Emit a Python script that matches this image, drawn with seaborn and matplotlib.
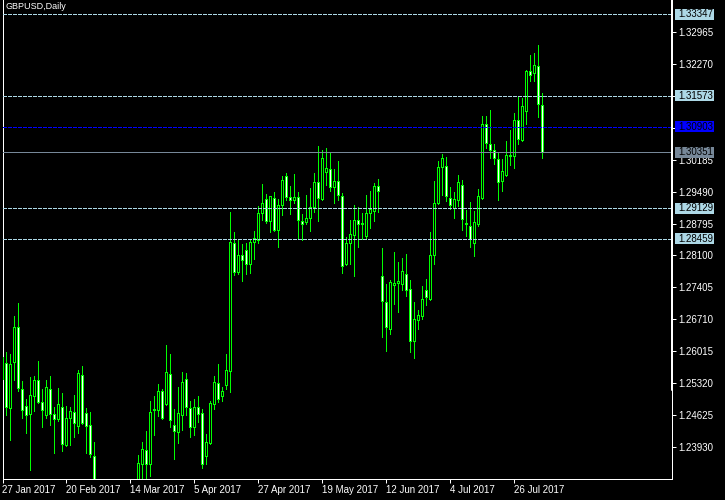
import matplotlib
matplotlib.use("Agg")
import matplotlib.pyplot as plt
import numpy as np
import pandas as pd
import seaborn as sns
from matplotlib.patches import Rectangle
from matplotlib.transforms import IdentityTransform

# daily GBPUSD bars, 27 Jan 2017 .. early Aug 2017 (first bar is cut by the left edge,
# the early-March bars sit below the visible price range)
opens = [
    1.2542, 1.25752, 1.24772, 1.25774, 1.26535, 1.25185, 1.24822, 1.24654, 1.25047, 1.25388,
    1.24903, 1.24633, 1.25192, 1.24641, 1.24545, 1.24794, 1.23980, 1.24554, 1.24685, 1.24393,
    1.25491, 1.24663, 1.24402, 1.23734, 1.2299, 1.2285, 1.2262, 1.2278, 1.2250, 1.2215,
    1.2195, 1.2210, 1.2240, 1.2225, 1.23102, 1.23554, 1.23858, 1.23554, 1.24729, 1.24742,
    1.25149, 1.24866, 1.25513, 1.24402, 1.24262, 1.24633, 1.25404, 1.24772, 1.24358, 1.24794,
    1.24663, 1.23741, 1.24011, 1.24859, 1.25323, 1.25047, 1.25273, 1.25591, 1.28365, 1.27746,
    1.28103, 1.28212, 1.27920, 1.28387, 1.28443, 1.29018, 1.29323, 1.28844, 1.29345, 1.28648,
    1.29192, 1.29824, 1.29367, 1.29302, 1.29367, 1.28851, 1.28822, 1.28909, 1.29155, 1.29693,
    1.29323, 1.29924, 1.29976, 1.29598, 1.29716, 1.29388, 1.27920, 1.28365, 1.28552, 1.28866,
    1.28779, 1.28530, 1.29018, 1.29062, 1.29606, 1.27646, 1.27080, 1.26506, 1.27463, 1.27507,
    1.27485, 1.27690, 1.27363, 1.26244, 1.26702, 1.26788, 1.27341, 1.27152, 1.28116, 1.29236,
    1.30019, 1.30041, 1.29345, 1.29127, 1.29302, 1.29628, 1.28785, 1.28742, 1.28365, 1.28792,
    1.29352, 1.30956, 1.30520, 1.30390, 1.30194, 1.29728, 1.29859, 1.30259, 1.30259, 1.31043,
    1.30607, 1.31252, 1.32110, 1.32066, 1.32218, 1.31369,
]
highs = [
    1.2595, 1.25998, 1.25955, 1.26781, 1.27065, 1.25366, 1.24975, 1.25454, 1.25469, 1.25802,
    1.25192, 1.25388, 1.25475, 1.24800, 1.25214, 1.25105, 1.24822, 1.24800, 1.25062, 1.25606,
    1.25693, 1.24779, 1.24692, 1.24040, 1.2315, 1.2305, 1.2290, 1.2300, 1.2270, 1.2240,
    1.2225, 1.2260, 1.2290, 1.2280, 1.23756, 1.24040, 1.24279, 1.24931, 1.25040, 1.25301,
    1.25186, 1.26151, 1.25955, 1.24757, 1.25236, 1.25556, 1.25541, 1.24931, 1.24975, 1.25040,
    1.24757, 1.24214, 1.24931, 1.25475, 1.25737, 1.25243, 1.25955, 1.29047, 1.28611, 1.28465,
    1.28350, 1.28372, 1.28459, 1.28633, 1.29171, 1.29656, 1.29432, 1.29400, 1.29482, 1.29323,
    1.29830, 1.29889, 1.29613, 1.29874, 1.29482, 1.29003, 1.29410, 1.29569, 1.29896, 1.30483,
    1.30396, 1.30440, 1.30331, 1.29983, 1.30156, 1.29454, 1.28495, 1.28872, 1.29192, 1.29149,
    1.29018, 1.29410, 1.29497, 1.29671, 1.29758, 1.28263, 1.27485, 1.27559, 1.28176, 1.27958,
    1.28045, 1.28132, 1.27566, 1.27086, 1.26913, 1.27441, 1.27581, 1.28611, 1.29721, 1.30150,
    1.30309, 1.30244, 1.29585, 1.29475, 1.29852, 1.29737, 1.29084, 1.29258, 1.29062, 1.29547,
    1.31137, 1.31137, 1.31261, 1.30527, 1.30337, 1.30194, 1.30592, 1.30825, 1.31195, 1.31579,
    1.31535, 1.32130, 1.32465, 1.32508, 1.32682, 1.31631,
]
lows = [
    1.2535, 1.24633, 1.24083, 1.25388, 1.25155, 1.24567, 1.24240, 1.23436, 1.24720, 1.24894,
    1.24371, 1.24567, 1.24415, 1.23806, 1.24502, 1.23843, 1.23952, 1.23980, 1.24156, 1.24240,
    1.24441, 1.23806, 1.23719, 1.22885, 1.2270, 1.2250, 1.2235, 1.2240, 1.2200, 1.2180,
    1.2170, 1.2195, 1.2215, 1.2200, 1.22994, 1.23100, 1.23261, 1.23291, 1.24192, 1.24604,
    1.24550, 1.24844, 1.24371, 1.23675, 1.24007, 1.24306, 1.24633, 1.24156, 1.24192, 1.24480,
    1.23473, 1.23567, 1.23998, 1.24757, 1.24916, 1.24931, 1.25186, 1.25127, 1.27674, 1.27690,
    1.27550, 1.27703, 1.27724, 1.28029, 1.28378, 1.28872, 1.28813, 1.28618, 1.28630, 1.28291,
    1.28981, 1.29308, 1.29002, 1.29249, 1.28465, 1.28430, 1.28792, 1.28640, 1.29053, 1.28857,
    1.29308, 1.29635, 1.29511, 1.29243, 1.29302, 1.27724, 1.27900, 1.27920, 1.27659, 1.28291,
    1.28452, 1.28459, 1.28698, 1.28851, 1.29053, 1.26332, 1.26027, 1.26390, 1.27050, 1.26869,
    1.27355, 1.27224, 1.25998, 1.25868, 1.26499, 1.26716, 1.27021, 1.27130, 1.27920, 1.29220,
    1.29423, 1.29286, 1.29105, 1.28916, 1.29171, 1.28661, 1.28517, 1.28291, 1.28095, 1.28742,
    1.29330, 1.30446, 1.30229, 1.30098, 1.29314, 1.29511, 1.29840, 1.30063, 1.29998, 1.30520,
    1.30590, 1.30969, 1.31905, 1.31905, 1.31121, 1.30229,
]
closes = [
    1.2588, 1.24807, 1.25730, 1.26535, 1.25220, 1.24742, 1.24620, 1.25055, 1.25388, 1.24916,
    1.24742, 1.25229, 1.24641, 1.24545, 1.24859, 1.24002, 1.24554, 1.24713, 1.24458, 1.25541,
    1.24458, 1.24393, 1.23784, 1.22994, 1.2285, 1.2262, 1.2278, 1.2250, 1.2215, 1.2195,
    1.2210, 1.2240, 1.2225, 1.2270, 1.23575, 1.23880, 1.23554, 1.24685, 1.24757, 1.25149,
    1.24567, 1.25556, 1.24523, 1.24284, 1.24663, 1.25338, 1.24807, 1.24358, 1.24794, 1.24654,
    1.23567, 1.24039, 1.24881, 1.25338, 1.24981, 1.25149, 1.25599, 1.28393, 1.27746, 1.28103,
    1.27994, 1.27920, 1.28387, 1.28474, 1.29018, 1.29236, 1.28844, 1.29388, 1.28648, 1.29192,
    1.29737, 1.29367, 1.29302, 1.29367, 1.28866, 1.28779, 1.28909, 1.29155, 1.29693, 1.29345,
    1.30215, 1.29998, 1.29598, 1.29716, 1.29410, 1.27864, 1.28365, 1.28561, 1.28866, 1.28779,
    1.28800, 1.29018, 1.29105, 1.29606, 1.29497, 1.27115, 1.26549, 1.27516, 1.27494, 1.27538,
    1.27755, 1.27355, 1.26244, 1.26710, 1.26797, 1.27145, 1.27202, 1.28103, 1.29236, 1.30019,
    1.30215, 1.29388, 1.29192, 1.29323, 1.29693, 1.28887, 1.28807, 1.28465, 1.28822, 1.29402,
    1.30956, 1.30555, 1.30390, 1.30215, 1.29706, 1.29933, 1.30281, 1.30281, 1.31043, 1.30629,
    1.31348, 1.32110, 1.32036, 1.32240, 1.31391, 1.30351,
]

date_labels = ["27 Jan 2017", "20 Feb 2017", "14 Mar 2017", "5 Apr 2017", "27 Apr 2017",
               "19 May 2017", "12 Jun 2017", "4 Jul 2017", "26 Jul 2017"]
date_bars = [0, 16, 32, 48, 64, 80, 96, 112, 128]

price_ticks = [1.23930, 1.24625, 1.25320, 1.26015, 1.26710, 1.27405, 1.28100,
               1.28795, 1.29490, 1.30185, 1.30880, 1.31575, 1.32270, 1.32965]
# these two scale labels sit under the price boxes in the terminal
hidden_ticks = [1.30880, 1.31575]

level_lines = [1.33347, 1.31573, 1.29129, 1.28459]
ask_line = 1.30903
bid_line = 1.30351

LIME = "#00FF00"
PX = 0.72  # one pixel in points at dpi 100

sns.set_theme(style="dark", rc={
    "axes.facecolor": "black",
    "figure.facecolor": "black",
    "axes.edgecolor": "white",
    "axes.grid": False,
})
plt.rcParams["font.family"] = ["Liberation Sans", "DejaVu Sans"]

df = pd.DataFrame({"open": opens, "high": highs, "low": lows, "close": closes})
df["bar"] = np.arange(len(df))
df["bear"] = df["close"] < df["open"]
df["body_lo"] = df[["open", "close"]].min(axis=1)
df["body_h"] = np.maximum((df["close"] - df["open"]).abs(), 0.00004)

fig = plt.figure(figsize=(7.25, 5.0), dpi=100)
ax = fig.add_axes([2.5 / 725, 21 / 500, 669.8 / 725, 479 / 500])

# wicks, then bodies (white = down bar, black = up bar)
ax.vlines(df["bar"], df["low"], df["high"], colors=LIME, lw=PX,
          antialiased=False, zorder=2)
ax.bar(df["bar"], df["body_h"], bottom=df["body_lo"], width=0.5,
       color=np.where(df["bear"], "white", "black"), edgecolor=LIME,
       linewidth=PX, antialiased=False, zorder=3)

for lvl in level_lines:
    ax.axhline(lvl, color="#ADD8E6", lw=PX, ls=(0, (3, 2)), antialiased=False, zorder=4)
ax.axhline(ask_line, color="#0000FF", lw=PX, ls=(0, (3, 2)), antialiased=False, zorder=4)
ax.axhline(bid_line, color="#778899", lw=PX, antialiased=False, zorder=4)

ax.set_xlim(0.05, 167.5)
ax.set_ylim(1.23233, 1.33662)

ax.set_xticks(date_bars)
ax.set_xticklabels(date_labels)
for lbl in ax.get_xticklabels():
    lbl.set_horizontalalignment("left")
ax.yaxis.tick_right()
ax.set_yticks(price_ticks)
ax.set_yticklabels(["" if v in hidden_ticks else f"{v:.5f}" for v in price_ticks])
ax.tick_params(axis="x", colors="white", direction="out", length=3, width=PX,
               pad=1.5, labelsize=7)
ax.tick_params(axis="y", colors="white", direction="out", length=3, width=PX,
               pad=1.5, labelsize=7)
ax.tick_params(axis="both", which="both", bottom=True, right=True, left=False, top=False)

for side in ["left", "bottom", "right"]:
    ax.spines[side].set_color("white")
    ax.spines[side].set_linewidth(PX)
ax.spines["top"].set_visible(False)
ax.plot([1, 1], [0.186, 1], color="white", lw=2 * PX, transform=ax.transAxes,
        clip_on=False, zorder=6)

ax.text(0.004, 0.995, "GBPUSD,Daily", transform=ax.transAxes, ha="left", va="top",
        color="white", fontsize=6.5)

# price labels on the right scale
x_right = ax.transAxes.transform((1, 0))[0]
boxes = [(v, "#ADD8E6") for v in level_lines] + [(ask_line, "#0000FF"), (bid_line, "#778899")]
for val, fc in boxes:
    y = ax.transData.transform((0, val))[1]
    fig.add_artist(Rectangle((x_right + 3, y - 5.5), 39, 11, transform=IdentityTransform(),
                             fc=fc, ec="none", zorder=5))
    fig.text(x_right + 6, y, f"{val:.5f}", transform=IdentityTransform(), ha="left",
             va="center", color="black", fontsize=7, zorder=6)

fig.savefig("out.png", dpi=100, facecolor="black")
